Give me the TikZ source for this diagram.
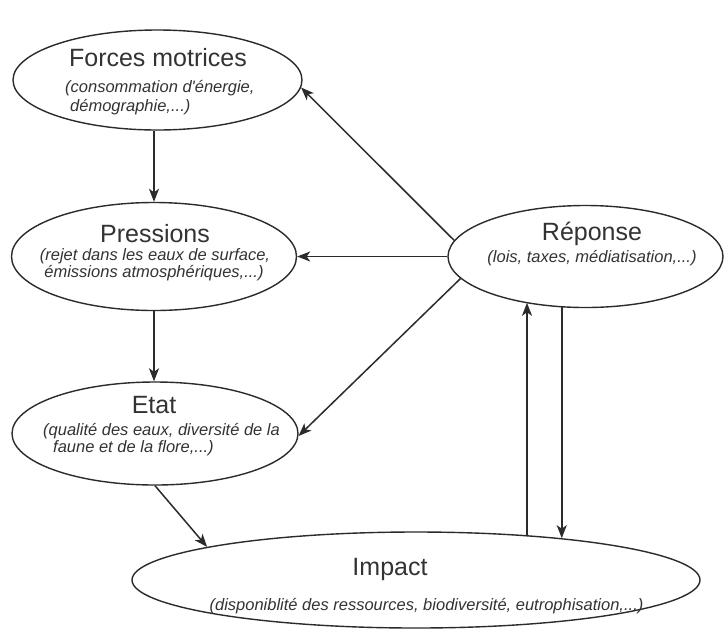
\documentclass[tikz,border=0pt]{standalone}
\usepackage{fontspec}
\setmainfont{Liberation Sans}[Ligatures=TeXOff]
\usetikzlibrary{arrows.meta,shapes.geometric}
\definecolor{ln}{HTML}{2B2B2B}
\definecolor{tx}{HTML}{333333}
\begin{document}
\begin{tikzpicture}[x=1pt,y=-1pt,
  ell/.style={draw=ln, line width=1.4pt, ellipse, inner sep=0pt},
  ttl/.style={text=tx, font=\fontsize{25}{30}\selectfont, anchor=base, inner sep=0pt},
  sub/.style={text=tx, font=\fontsize{16.5}{19}\selectfont\itshape, anchor=base, inner sep=0pt},
  subl/.style={sub, anchor=base west},
  arr/.style={draw=ln, line width=1.5pt, -{Stealth[length=13pt,width=10pt,inset=3.5pt]}}]
\useasboundingbox[fill=white] (0,0) rectangle (725,630);

% ellipses
\node[ell, minimum width=289pt, minimum height=100pt] (fm) at (157.5,80) {};
\node[ell, minimum width=285pt, minimum height=108pt] (pr) at (154,256.5) {};
\node[ell, minimum width=286pt, minimum height=103pt] (et) at (155,433.5) {};
\node[ell, minimum width=275pt, minimum height=102pt] (re) at (585.5,256.5) {};
\node[ell, minimum width=568pt, minimum height=96pt] (im) at (416,580) {};

% texts
\node[ttl] (fmt) at (158,66) {Forces motrices};
\node[subl] (fms1) at (65,92) {(consommation d'énergie,};
\node[subl] (fms2) at (70,111) {démographie,...)};

\node[ttl] (prt) at (155,242) {Pressions};
\node[sub] (prs1) at (155,260) {(rejet dans les eaux de surface,};
\node[sub] (prs2) at (154,277) {émissions atmosphériques,...)};

\node[ttl] (ett) at (154,413) {Etat};
\node[subl] (ets1) at (43,435) {(qualité des eaux, diversité de la};
\node[subl] (ets2) at (53,452) {faune et de la flore,...)};

\node[ttl] (ret) at (592,240) {Réponse};
\node[sub] (res) at (592,262) {(lois, taxes, médiatisation,...)};

\node[ttl] (imt) at (390,575) {Impact};
\node[sub] (ims) at (426.5,610) {(disponiblité des ressources, biodiversité, eutrophisation,...)};

% connectors
\draw[arr] (fm.south -| pr.north) -- (pr.north);
\draw[arr] (pr.south) -- (pr.south |- et.north);
\draw[arr] (re.173) -- (fm.357);
\draw[arr] (re.west) -- (pr.east);
\draw[arr] (re.190) -- (et.359);
\draw[arr] (et.south) -- (im.171);
\draw[arr] (im.22) -- (im.22 |- re.217);
\draw[arr] (re.245) -- (re.245 |- im.16);
\end{tikzpicture}
\end{document}
